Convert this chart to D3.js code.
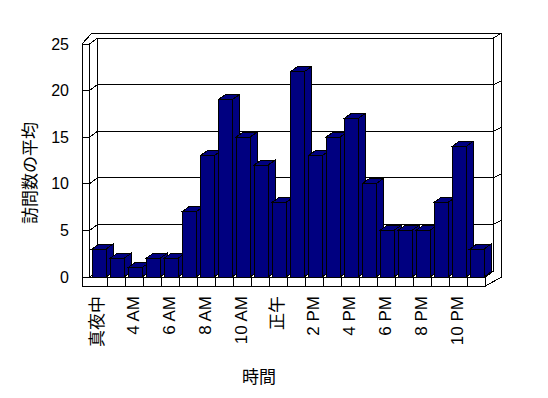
<!DOCTYPE html>
<head>
<meta charset="utf-8">
<script src="https://d3js.org/d3.v7.min.js"></script>
<style type="text/css">
	body { margin: 0; background: #fff; }
	svg { display: block; }
	text { font-family: "Liberation Sans", "Noto Sans CJK JP", sans-serif; fill: #000; }
</style>
</head>
<body>
<div id="chart"></div>
</body>
<script>

	// categories (hours) and the average visit counts
	var categories = ["真夜中", "1 AM", "4 AM", "5 AM", "6 AM", "7 AM", "8 AM", "9 AM", "10 AM", "11 AM",
		"正午", "1 PM", "2 PM", "3 PM", "4 PM", "5 PM", "6 PM", "7 PM", "8 PM", "9 PM", "10 PM", "11 PM"];
	var visits = [3, 2, 1, 2, 2, 7, 13, 19, 15, 12, 8, 22, 13, 15, 17, 10, 5, 5, 5, 8, 14, 3];
	var yTicks = [0, 5, 10, 15, 20, 25];
	var shownLabels = ["真夜中", "4 AM", "6 AM", "8 AM", "10 AM", "正午", "2 PM", "4 PM", "6 PM", "8 PM", "10 PM"];
	var yTitle = "訪問数の平均";
	var xTitle = "時間";

	var width = 548, height = 398;

	var svg = d3.select("#chart").append("svg")
		.attr("width", width)
		.attr("height", height);

	var x = d3.scaleBand()
		.domain(categories)
		.range([89.5, 485.5]);

	var y = d3.scaleLinear()
		.domain([0, 25])
		.range([277, 44]);

	// 3d offsets
	var DX = 8, DY = 6;       // depth of floor / back wall
	var wallT = 7.5;          // side wall thickness
	var floorT = 9;           // floor thickness
	var barW = 14, barDX = 7, barDY = 5;

	var x0 = x.range()[0], x1 = x.range()[1];
	var yb = y(0), yt = y(25);

	var frame = svg.append("g")
		.attr("fill", "none")
		.attr("stroke", "#000")
		.attr("stroke-width", 1)
		.attr("shape-rendering", "crispEdges");

	function seg(a, b) {
		frame.append("line")
			.attr("x1", a[0]).attr("y1", a[1])
			.attr("x2", b[0]).attr("y2", b[1]);
	}
	function poly(pts, fill, g) {
		return (g || frame).append("polygon")
			.attr("points", pts.map(p => p.join(",")).join(" "))
			.attr("fill", fill);
	}

	// outer silhouette of the walls + floor
	poly([
		[x0 - wallT, yt],
		[x0 - wallT + DX + 2, yt - 2 * DY + 1],
		[x1 + 2 * DX, yt - 2 * DY + 1],
		[x1 + 2 * DX, yb],
		[x1, yb + floorT],
		[x0 - wallT, yb + floorT]
	], "#fff");

	// back wall front face
	poly([
		[x0 + DX, yt - DY], [x1 + DX, yt - DY],
		[x1 + DX, yb - DY], [x0 + DX, yb - DY]
	], "#fff");
	seg([x1 + DX, yt - DY], [x1 + 2 * DX, yt - 2 * DY + 1]);

	// side wall
	seg([x0 - wallT, yt], [x0, yt]);
	seg([x0, yt], [x0 + DX, yt - DY]);
	seg([x0, yt], [x0, yb]);

	// floor
	seg([x0, yb], [x1, yb]);
	seg([x1, yb], [x1, yb + floorT]);
	seg([x0, yb], [x0 + DX, yb - DY]);
	seg([x1, yb], [x1 + DX, yb - DY]);

	// gridlines running over side wall and back wall
	yTicks.forEach(function (v) {
		var yy = y(v);
		seg([x0 - wallT, yy], [x0, yy]);
		seg([x0, yy], [x0 + DX, yy - DY]);
		if (v > 0 && v < 25) {
			seg([x0 + DX, yy - DY], [x1 + DX, yy - DY]);
			seg([x1 + DX, yy - DY], [x1 + 2 * DX, yy - DY - 4]);
		}
	});

	// category dividers on the floor front
	categories.slice(1).forEach(function (c) {
		seg([x(c), yb], [x(c), yb + floorT]);
	});

	// bars
	var bars = svg.append("g")
		.attr("stroke", "#000")
		.attr("stroke-width", 1)
		.attr("shape-rendering", "crispEdges");

	categories.forEach(function (c, i) {
		var bx = x(c) + 2.5;
		var yv = y(visits[i]);
		var g = bars.append("g");
		poly([[bx + barW, yv], [bx + barW + barDX, yv - barDY], [bx + barW + barDX, yb - barDY], [bx + barW, yb]], "#000080", g);
		poly([[bx, yv], [bx + barW, yv], [bx + barW + barDX, yv - barDY], [bx + barDX, yv - barDY]], "#000080", g);
		poly([[bx, yv], [bx + barW, yv], [bx + barW, yb], [bx, yb]], "#000080", g);
	});

	// y tick labels
	svg.append("g").selectAll("text")
		.data(yTicks)
		.join("text")
		.attr("x", 69)
		.attr("y", d => y(d))
		.attr("text-anchor", "end")
		.attr("dominant-baseline", "central")
		.style("font-size", "16px")
		.text(d => d);

	// x labels, rotated
	svg.append("g").selectAll("text")
		.data(shownLabels)
		.join("text")
		.attr("transform", d => "translate(" + (x(d) + x.bandwidth() / 2 - 1) + ",296) rotate(-90)")
		.attr("text-anchor", "end")
		.attr("dominant-baseline", "central")
		.style("font-size", "17px")
		.text(d => d);

	// axis titles
	svg.append("text")
		.attr("transform", "translate(30,173) rotate(-90)")
		.attr("text-anchor", "middle")
		.attr("dominant-baseline", "central")
		.style("font-size", "17px")
		.text(yTitle);

	svg.append("text")
		.attr("x", 259)
		.attr("y", 377)
		.attr("text-anchor", "middle")
		.attr("dominant-baseline", "central")
		.style("font-size", "17px")
		.text(xTitle);

</script>
